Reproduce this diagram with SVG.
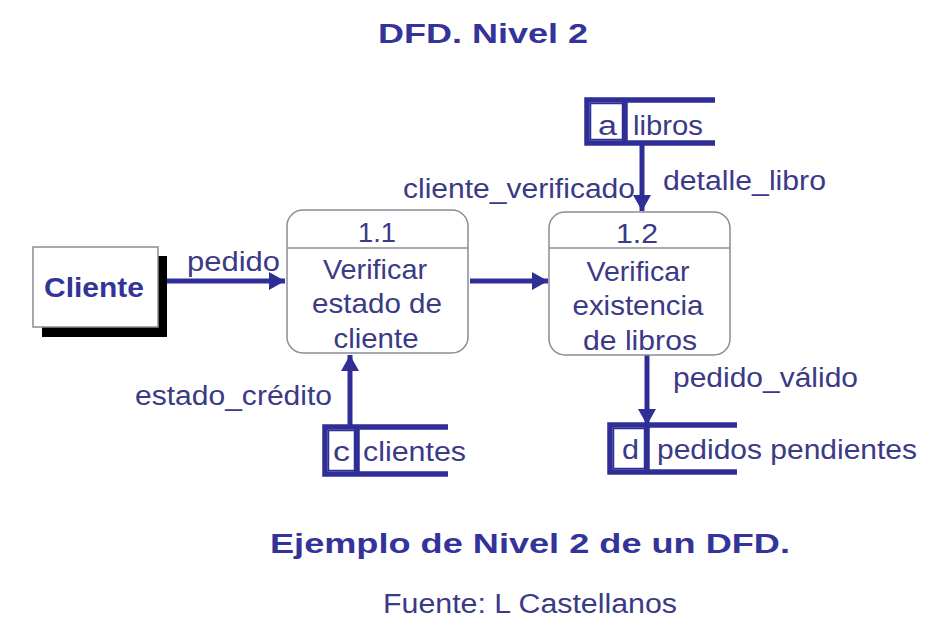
<svg xmlns="http://www.w3.org/2000/svg" width="936" height="634" viewBox="0 0 936 634">
<style>
.t{font-family:"Liberation Sans",Arial,sans-serif;fill:#3a3a86;font-size:27px}
.b{font-weight:bold;fill:#333399}
.p{font-size:28px}
.proc{fill:#fff;stroke:#8c8c98;stroke-width:1.5}
.div{stroke:#8c8c98;stroke-width:1.5}
.st{fill:none;stroke:#2e2e96;stroke-width:5.5}
.cell{fill:none;stroke:#2e2e96;stroke-width:1.5}
.flow{stroke:#2e2e96;stroke-width:5;fill:none;marker-end:url(#ah)}
</style>
<defs>
<marker id="ah" markerUnits="userSpaceOnUse" markerWidth="18" markerHeight="18" refX="16" refY="9" orient="auto">
<path d="M0,0 L16,9 L0,18 z" fill="#2e2e96"/>
</marker>
</defs>
<rect width="936" height="634" fill="#fff"/>
<text class="t b" x="483" y="43" text-anchor="middle" font-size="32" textLength="210" lengthAdjust="spacingAndGlyphs">DFD. Nivel 2</text>

<g id="connectors">
<line class="flow" x1="160" y1="281" x2="285" y2="281"/>
<line class="flow" x1="470" y1="281" x2="548" y2="281"/>
<line class="flow" x1="642" y1="143" x2="642" y2="211"/>
<line class="flow" x1="350" y1="427" x2="350" y2="355"/>
<line class="flow" x1="647" y1="355" x2="647" y2="425"/>
<text class="t" x="187" y="271" textLength="93" lengthAdjust="spacingAndGlyphs">pedido</text>
<text class="t" x="403" y="198" textLength="232" lengthAdjust="spacingAndGlyphs">cliente_verificado</text>
<text class="t" x="663" y="190" textLength="163" lengthAdjust="spacingAndGlyphs">detalle_libro</text>
<text class="t" x="135" y="405" textLength="197" lengthAdjust="spacingAndGlyphs">estado_crédito</text>
<text class="t" x="673" y="387" textLength="185" lengthAdjust="spacingAndGlyphs">pedido_válido</text>
</g>

<g id="cliente">
<rect x="42" y="256" width="125" height="81" fill="#000"/>
<rect x="33" y="247" width="125" height="80" fill="#fff" stroke="#8c8c98" stroke-width="1.5"/>
<text class="t b" x="44" y="297" font-size="27" textLength="100" lengthAdjust="spacingAndGlyphs">Cliente</text>
</g>

<g id="p11">
<rect class="proc" x="287" y="210" width="181" height="143" rx="16"/>
<line class="div" x1="287" y1="248" x2="468" y2="248"/>
<text class="t p" x="377" y="242" text-anchor="middle" textLength="38" lengthAdjust="spacingAndGlyphs">1.1</text>
<text class="t p" x="375" y="279" text-anchor="middle" textLength="104" lengthAdjust="spacingAndGlyphs">Verificar</text>
<text class="t p" x="377" y="313" text-anchor="middle" textLength="130" lengthAdjust="spacingAndGlyphs">estado de</text>
<text class="t p" x="376" y="348" text-anchor="middle" textLength="85" lengthAdjust="spacingAndGlyphs">cliente</text>
</g>

<g id="p12">
<rect class="proc" x="549" y="212" width="181" height="143" rx="16"/>
<line class="div" x1="549" y1="248" x2="730" y2="248"/>
<text class="t p" x="637" y="243" text-anchor="middle" textLength="42" lengthAdjust="spacingAndGlyphs">1.2</text>
<text class="t p" x="638" y="281" text-anchor="middle" textLength="103" lengthAdjust="spacingAndGlyphs">Verificar</text>
<text class="t p" x="638" y="315" text-anchor="middle" textLength="131" lengthAdjust="spacingAndGlyphs">existencia</text>
<text class="t p" x="640" y="350" text-anchor="middle" textLength="114" lengthAdjust="spacingAndGlyphs">de libros</text>
</g>

<g id="store-a">
<path class="st" d="M715,100 H587 V143 H715 M625,100 V143"/>
<rect class="cell" x="590.5" y="103.5" width="32" height="36"/>
<text class="t" x="598" y="135" textLength="19" lengthAdjust="spacingAndGlyphs">a</text>
<text class="t" x="633" y="135" textLength="70" lengthAdjust="spacingAndGlyphs">libros</text>
</g>

<g id="store-c">
<path class="st" d="M448,427 H325 V474 H448 M357,427 V474"/>
<rect class="cell" x="328.5" y="430.5" width="26" height="40"/>
<text class="t" x="333" y="461" textLength="17" lengthAdjust="spacingAndGlyphs">c</text>
<text class="t" x="363" y="461" textLength="103" lengthAdjust="spacingAndGlyphs">clientes</text>
</g>

<g id="store-d">
<path class="st" d="M737,425 H610 V472 H737 M647,425 V472"/>
<rect class="cell" x="613.5" y="428.5" width="31" height="40"/>
<text class="t" x="622" y="459" textLength="17" lengthAdjust="spacingAndGlyphs">d</text>
<text class="t" x="657" y="459" textLength="260" lengthAdjust="spacingAndGlyphs">pedidos pendientes</text>
</g>

<text class="t b" x="530" y="553" text-anchor="middle" font-size="33" textLength="520" lengthAdjust="spacingAndGlyphs">Ejemplo de Nivel 2 de un DFD.</text>
<text class="t" x="530" y="613" text-anchor="middle" font-size="24" fill="#404088" textLength="294" lengthAdjust="spacingAndGlyphs">Fuente: L Castellanos</text>
</svg>
